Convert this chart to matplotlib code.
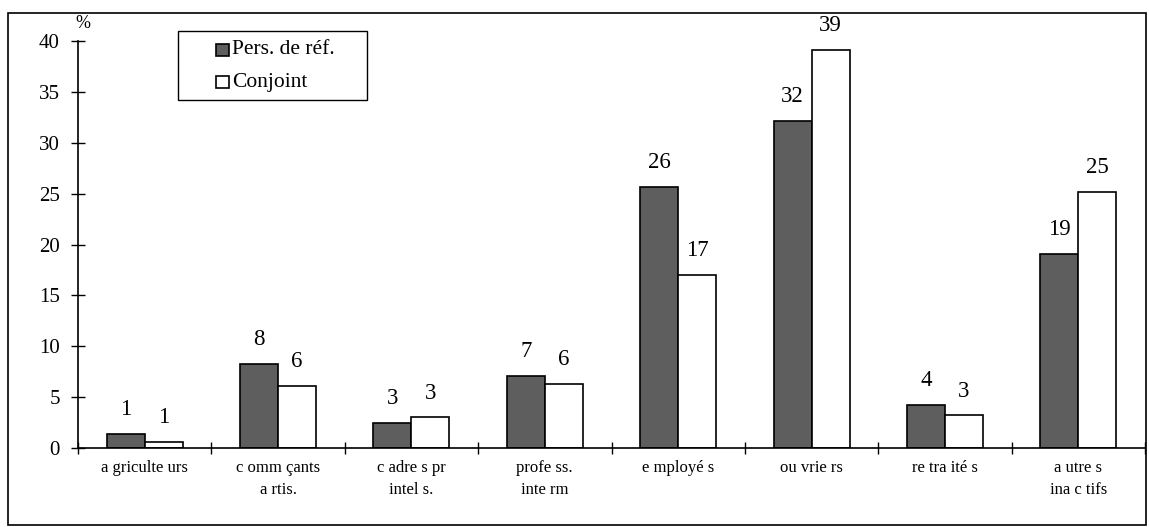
import matplotlib
matplotlib.use("Agg")
import matplotlib.pyplot as plt
import numpy as np
from matplotlib.patches import Rectangle

categories = ["a griculte urs", "c omm çants\na rtis.", "c adre s pr\nintel s.", "profe ss.\ninte rm",
              "e mployé s", "ou vrie rs", "re tra ité s", "a utre s\nina c tifs"]
series_names = ["Pers. de réf.", "Conjoint"]
pers_ref = [1.4, 8.3, 2.5, 7.1, 25.7, 32.1, 4.2, 19.1]
conjoint = [0.6, 6.1, 3.0, 6.3, 17.0, 39.1, 3.2, 25.2]
pers_labels = ["1", "8", "3", "7", "26", "32", "4", "19"]
conj_labels = ["1", "6", "3", "6", "17", "39", "3", "25"]
yticks = [0, 5, 10, 15, 20, 25, 30, 35, 40]

plt.rcParams['font.family'] = ['Liberation Serif', 'DejaVu Serif']

W, H = 1149, 527
fig = plt.figure(figsize=(W/100, H/100), dpi=100)

def fx(px):
    return px / W

def fy(py):
    return 1 - py / H

fig.patches.append(Rectangle((fx(8), fy(525)), fx(1146) - fx(8), fy(13) - fy(525),
                             transform=fig.transFigure, fill=False, edgecolor='black', lw=1.2))
ax = fig.add_axes([fx(78), fy(448), fx(1145) - fx(78), fy(41) - fy(448)])

dark = '#5e5e5e'
x = np.arange(len(categories))
w = 0.285
ax.bar(x - w/2, pers_ref, w, color=dark, edgecolor='black', lw=1.2)
ax.bar(x + w/2, conjoint, w, color='white', edgecolor='black', lw=1.2)
for xi, v, t in zip(x - w/2, pers_ref, pers_labels):
    ax.text(xi, v + 2.4, t, ha='center', va='center', fontsize=16.5)
for xi, v, t in zip(x + w/2, conjoint, conj_labels):
    ax.text(xi, v + 2.4, t, ha='center', va='center', fontsize=16.5)

ax.set_xlim(-0.5, len(categories) - 0.5)
ax.set_ylim(0, 40)
ax.set_yticks(yticks)
ax.set_yticklabels([str(v) for v in yticks], fontsize=15)
ax.set_xticks(x)
ax.set_xticklabels(categories, fontsize=12, linespacing=1.45)
ax.set_xticks(np.arange(len(categories) + 1) - 0.5, minor=True)
ax.tick_params(axis='x', which='major', length=0, pad=9)
ax.tick_params(axis='x', which='minor', length=8, direction='inout', width=1)
ax.tick_params(axis='y', length=10, direction='inout', width=1, pad=8)
for s in ['top', 'right']:
    ax.spines[s].set_visible(False)
for s in ['left', 'bottom']:
    ax.spines[s].set_linewidth(1.2)
fig.text(fx(75), fy(24), "%", ha='left', va='center', fontsize=13)

# legend drawn as a box with two entries
fig.patches.append(Rectangle((fx(178), fy(100)), fx(367) - fx(178), fy(31) - fy(100),
                             transform=fig.transFigure, fill=True, facecolor='white',
                             edgecolor='black', lw=1.0, zorder=5))
for i, (name, fc) in enumerate(zip(series_names, [dark, 'white'])):
    cy = 50 + 32 * i
    fig.patches.append(Rectangle((fx(216), fy(cy + 6)), fx(229) - fx(216), fy(cy - 6) - fy(cy + 6),
                                 transform=fig.transFigure, facecolor=fc, edgecolor='black',
                                 lw=1.2, zorder=6))
    fig.text(fx(232), fy(cy), name, ha='left', va='center', fontsize=15.5, zorder=7)

fig.savefig("out.png", dpi=100)
